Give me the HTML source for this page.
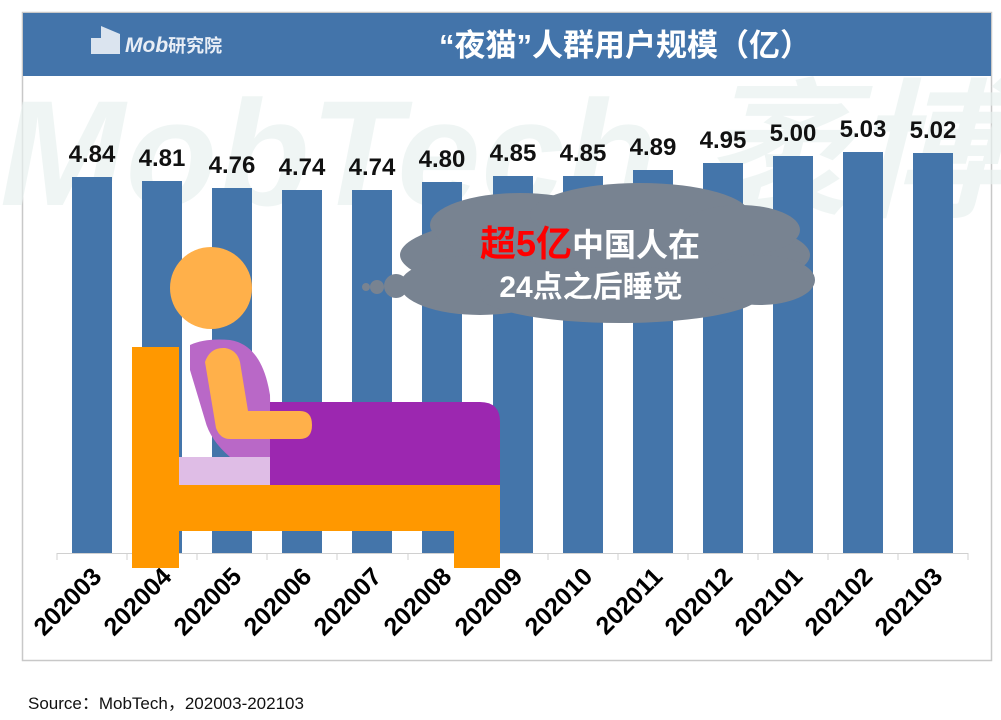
<!DOCTYPE html>
<html><head><meta charset="utf-8"><style>
body{margin:0;background:#fff;width:1001px;height:720px;overflow:hidden}
svg{display:block}
text{font-family:"Liberation Sans","Noto Sans CJK SC",sans-serif}
</style></head><body>
<svg width="1001" height="720" viewBox="0 0 1001 720">
<rect x="22.5" y="12.5" width="969" height="648" fill="#fff" stroke="#c8c8c8" stroke-width="1.5"/>
<!-- watermark -->
<text x="0" y="205" font-size="150" font-style="italic" font-weight="bold" fill="#e9f2f0" opacity="0.7" textLength="1001">MobTech 袤博</text>
<rect x="23" y="13" width="968" height="63" fill="#4374aa"/>
<!-- logo -->
<g fill="#dbe4ef"><rect x="91" y="38" width="10" height="16"/><polygon points="101,26 120,34 120,54 101,54"/></g>
<text x="125" y="52" font-size="21" font-style="italic" font-weight="bold" fill="#e8eef6">Mob<tspan font-style="normal" font-size="18">研究院</tspan></text>
<text x="625" y="56" font-size="31" font-weight="bold" fill="#fff" text-anchor="middle">“夜猫”人群用户规模（亿）</text>
<!-- axis -->
<line x1="57" y1="553.5" x2="968" y2="553.5" stroke="#d0d0d0"/>
<g stroke="#d0d0d0">
<line x1="57" y1="553" x2="57" y2="560"/><line x1="127" y1="553" x2="127" y2="560"/><line x1="197" y1="553" x2="197" y2="560"/><line x1="267" y1="553" x2="267" y2="560"/><line x1="337" y1="553" x2="337" y2="560"/><line x1="408" y1="553" x2="408" y2="560"/><line x1="478" y1="553" x2="478" y2="560"/><line x1="548" y1="553" x2="548" y2="560"/><line x1="618" y1="553" x2="618" y2="560"/><line x1="688" y1="553" x2="688" y2="560"/><line x1="758" y1="553" x2="758" y2="560"/><line x1="828" y1="553" x2="828" y2="560"/><line x1="898" y1="553" x2="898" y2="560"/><line x1="968" y1="553" x2="968" y2="560"/>
</g>
<g fill="#4475aa">
<rect x="72" y="177" width="40" height="376"/>
<rect x="142" y="181" width="40" height="372"/>
<rect x="212" y="188" width="40" height="365"/>
<rect x="282" y="190" width="40" height="363"/>
<rect x="352" y="190" width="40" height="363"/>
<rect x="422" y="182" width="40" height="371"/>
<rect x="493" y="176" width="40" height="377"/>
<rect x="563" y="176" width="40" height="377"/>
<rect x="633" y="170" width="40" height="383"/>
<rect x="703" y="163" width="40" height="390"/>
<rect x="773" y="156" width="40" height="397"/>
<rect x="843" y="152" width="40" height="401"/>
<rect x="913" y="153" width="40" height="400"/>
</g>
<g font-size="24" font-weight="bold" fill="#111" text-anchor="middle">
<text x="92" y="162">4.84</text><text x="162" y="166">4.81</text><text x="232" y="173">4.76</text><text x="302" y="175">4.74</text><text x="372" y="175">4.74</text><text x="442" y="167">4.80</text><text x="513" y="161">4.85</text><text x="583" y="161">4.85</text><text x="653" y="155">4.89</text><text x="723" y="148">4.95</text><text x="793" y="141">5.00</text><text x="863" y="137">5.03</text><text x="933" y="138">5.02</text>
</g>
<g font-size="25" font-weight="bold" fill="#000" text-anchor="end">
<text transform="translate(103,578) rotate(-45)">202003</text>
<text transform="translate(173,578) rotate(-45)">202004</text>
<text transform="translate(243,578) rotate(-45)">202005</text>
<text transform="translate(313,578) rotate(-45)">202006</text>
<text transform="translate(383,578) rotate(-45)">202007</text>
<text transform="translate(453,578) rotate(-45)">202008</text>
<text transform="translate(524,578) rotate(-45)">202009</text>
<text transform="translate(594,578) rotate(-45)">202010</text>
<text transform="translate(664,578) rotate(-45)">202011</text>
<text transform="translate(734,578) rotate(-45)">202012</text>
<text transform="translate(804,578) rotate(-45)">202101</text>
<text transform="translate(874,578) rotate(-45)">202102</text>
<text transform="translate(944,578) rotate(-45)">202103</text>
</g>
<!-- cloud -->
<g fill="#788391">
<ellipse cx="605" cy="255" rx="205" ry="45"/>
<ellipse cx="520" cy="225" rx="90" ry="32"/>
<ellipse cx="640" cy="215" rx="110" ry="32"/>
<ellipse cx="740" cy="230" rx="60" ry="25"/>
<ellipse cx="480" cy="285" rx="80" ry="30"/>
<ellipse cx="620" cy="295" rx="140" ry="28"/>
<ellipse cx="760" cy="280" rx="55" ry="25"/>
<circle cx="396" cy="286" r="12"/><circle cx="377" cy="287" r="7"/><circle cx="366" cy="287" r="4"/>
</g>
<text x="590" y="256" font-size="32" font-weight="bold" fill="#fff" text-anchor="middle"><tspan fill="#ff0000" font-size="36">超5亿</tspan>中国人在</text>
<text x="591" y="297" font-size="30" font-weight="bold" fill="#fff" text-anchor="middle">24点之后睡觉</text>
<!-- person in bed -->
<circle cx="211" cy="288" r="41" fill="#ffb04a"/>
<path d="M190,345 Q205,338 230,340 Q262,345 270,395 L271,457 L230,457 Q210,440 205,420 L190,370 Z" fill="#b968c7"/>
<rect x="179" y="457" width="91" height="28" fill="#dfbde6"/>
<path d="M270,402 L480,402 Q500,402 500,422 L500,485 L270,485 Z" fill="#9c27b0"/>
<path d="M205,362 Q210,347 225,348 Q237,350 240,362 L248,411 L300,411 Q312,411 312,425 Q312,439 300,439 L230,439 Q220,439 216,428 Z" fill="#ffb04a"/>
<g fill="#ff9800">
<rect x="132" y="347" width="47" height="221"/>
<rect x="179" y="485" width="321" height="46"/>
<rect x="454" y="531" width="46" height="37"/>
</g>
<text x="28" y="709" font-size="17" fill="#111">Source：MobTech，202003-202103</text>
</svg>
</body></html>
